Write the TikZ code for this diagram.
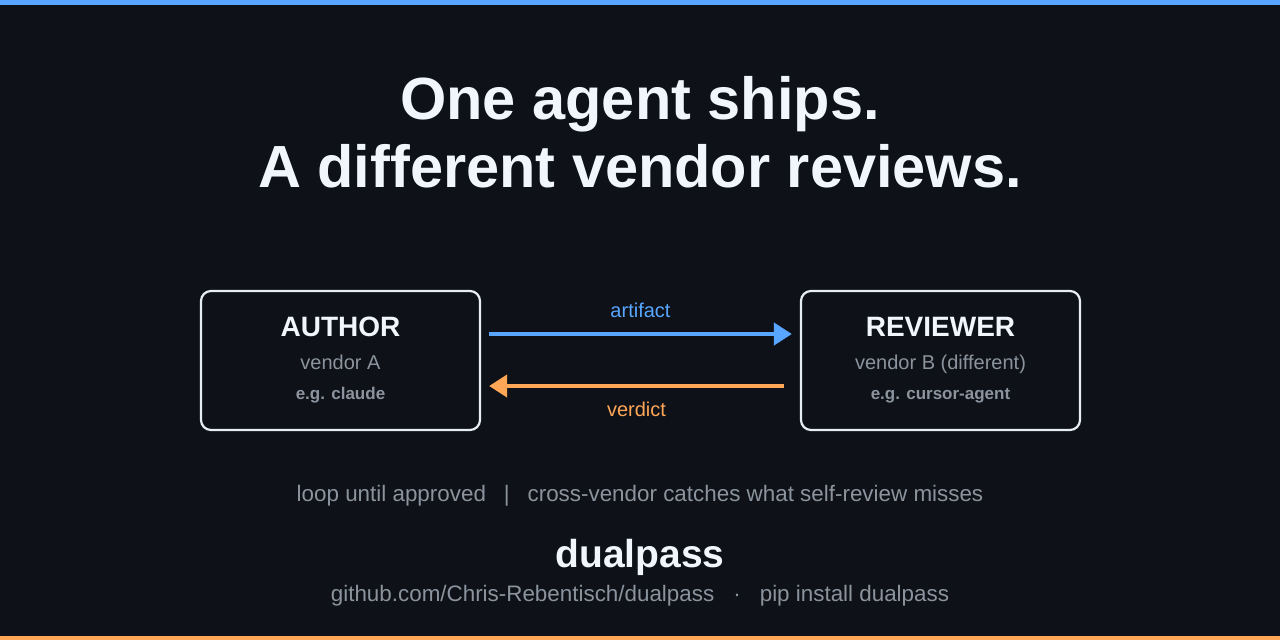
\documentclass[tikz,border=0pt]{standalone}
\usepackage{fontspec}
\setmainfont{Liberation Sans}
\usepackage{xcolor}
\usepackage{tikz}
\usetikzlibrary{positioning, arrows.meta}

\definecolor{bgdark}{HTML}{0E1117}
\definecolor{ghblue}{HTML}{58A6FF}
\definecolor{ghorange}{HTML}{FFA657}
\definecolor{ghwhite}{HTML}{F0F6FC}
\definecolor{ghgray}{HTML}{8B949E}
\definecolor{ghline}{HTML}{E6EDF3}

\begin{document}
\begin{tikzpicture}[
  x=1pt, y=-1pt,
  txt/.style={inner sep=0pt, anchor=base},
  headline/.style={txt, text=ghwhite, font=\fontsize{59.5}{59.5}\selectfont\bfseries},
  role/.style={txt, text=ghwhite, font=\fontsize{28}{28}\selectfont\bfseries},
  vendor/.style={txt, text=ghgray, font=\fontsize{20}{20}\selectfont},
  example/.style={txt, text=ghgray, font=\fontsize{17}{17}\selectfont\bfseries},
  note/.style={txt, text=ghgray, font=\fontsize{22.4}{22.4}\selectfont},
  flow/.style={inner sep=0pt, font=\fontsize{20}{20}\selectfont},
  agentbox/.style={draw=ghline, line width=2.2pt, rounded corners=10pt,
                   fill=bgdark, minimum width=279pt, minimum height=139pt, inner sep=0pt},
  arr/.style={line width=4pt, -{Triangle[length=18pt, width=22pt]}}
]
% background and bars
\fill[bgdark] (0,0) rectangle (1280,640);
\fill[ghblue] (0,0) rectangle (1280,5);
\fill[ghorange] (0,636) rectangle (1280,640);

% headline
\node[headline] (line1) at (640,119) {One agent ships.};
\node[headline] (line2) at (640,187) {A different vendor reviews.};

% the two agents
\node[agentbox] (author) at (340.5,360.5) {};
\node[agentbox] (reviewer) at (940.5,360.5) {};

\node[role] (authorrole) at (340.5,336) {AUTHOR};
\node[vendor] (authorvendor) at (340.5,369) {vendor A};
\node[example] (authorex) at (340.5,399) {e.g. claude};

\node[role] (reviewerrole) at (940.5,336) {REVIEWER};
\node[vendor] (reviewervendor) at (940.5,369) {vendor B (different)};
\node[example] (reviewerex) at (940.5,399) {e.g. cursor-agent};

% exchange
\draw[arr, ghblue] ([xshift=8pt, yshift=26.5pt]author.east)
  -- node[above=14pt, flow, text=ghblue]{artifact}
  ([xshift=-8pt, yshift=26.5pt]reviewer.west);
\draw[arr, ghorange] ([xshift=-16pt, yshift=-25.5pt]reviewer.west)
  -- node[below=14pt, flow, text=ghorange]{verdict}
  ([xshift=8pt, yshift=-25.5pt]author.east);

% footer
\node[note] (loop) at (640,501) {loop until approved\hspace{0.8em}|\hspace{0.8em}cross-vendor catches what self-review misses};
\node[txt, text=ghwhite, font=\fontsize{39}{39}\selectfont\bfseries] (name) at (640,567) {dualpass};
\node[note] (links) at (640,601) {github.com/Chris-Rebentisch/dualpass\hspace{0.85em}·\hspace{0.85em}pip install dualpass};
\end{tikzpicture}
\end{document}
